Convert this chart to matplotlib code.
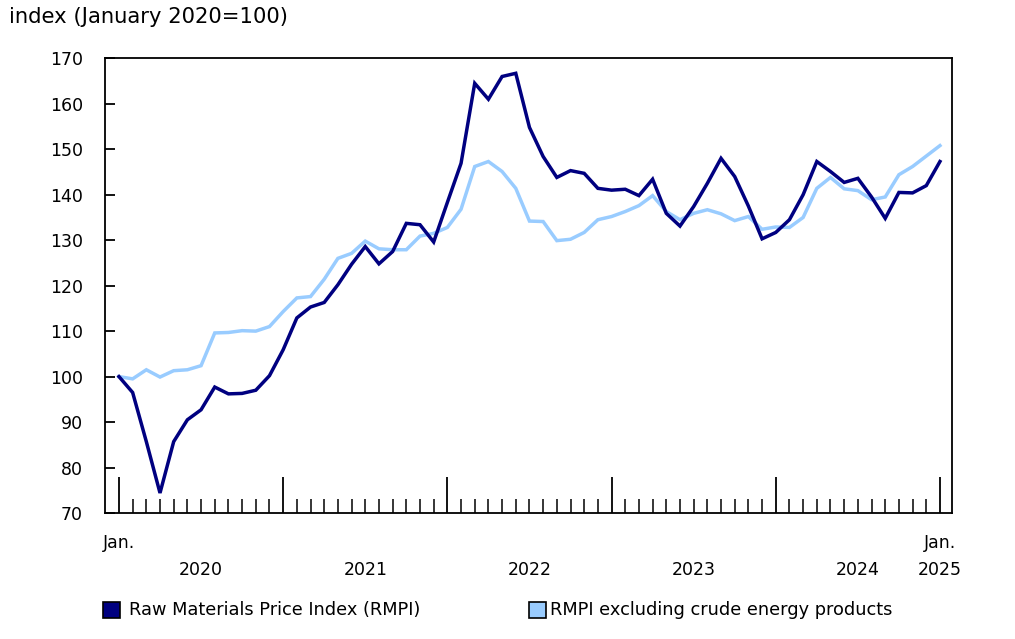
import matplotlib
matplotlib.use("Agg")
import matplotlib.pyplot as plt
from matplotlib.patches import Rectangle
import numpy as np

plt.rcParams['font.family'] = ['DejaVu Sans']

# monthly index values, Jan 2020 .. Jan 2025 (January 2020 = 100)
rmpi = [100.0, 96.5, 85.7, 74.4, 85.7, 90.5, 92.7, 97.7, 96.2, 96.3, 97.0, 100.2,
        105.9, 112.9, 115.3, 116.3, 120.2, 124.7, 128.6, 124.8, 127.5, 133.7, 133.4, 129.6,
        138.3, 146.9, 164.5, 161.0, 166.0, 166.7, 154.8, 148.4, 143.8, 145.3, 144.7, 141.4,
        141.0, 141.2, 139.8, 143.4, 135.9, 133.1, 137.4, 142.5, 148.0, 144.0, 137.5, 130.3,
        131.7, 134.5, 140.0, 147.3, 145.1, 142.7, 143.6, 139.5, 134.8, 140.5, 140.4, 142.0,
        147.3]
rmpi_ex_energy = [100.0, 99.5, 101.5, 99.9, 101.3, 101.5, 102.4, 109.6, 109.7, 110.1, 110.0, 111.0,
                  114.3, 117.3, 117.6, 121.4, 126.0, 127.1, 129.8, 128.1, 127.9, 127.9, 130.9, 131.5,
                  132.8, 136.8, 146.2, 147.3, 145.1, 141.4, 134.2, 134.1, 129.9, 130.2, 131.7, 134.5,
                  135.2, 136.3, 137.6, 139.8, 136.3, 134.5, 135.9, 136.7, 135.8, 134.3, 135.2, 132.4,
                  132.9, 132.8, 135.0, 141.4, 143.8, 141.3, 140.9, 138.9, 139.5, 144.4, 146.2, 148.5,
                  150.8]
years = ['2020', '2021', '2022', '2023', '2024']
series_names = ['Raw Materials Price Index (RMPI)', 'RMPI excluding crude energy products']
colors = ['#000080', '#99ccff']

W, H = 1015, 639
fig = plt.figure(figsize=(W / 100, H / 100), dpi=100)
ax = fig.add_axes([105 / W, 1 - 513 / H, (952 - 105) / W, (513 - 58.3) / H])

x = np.arange(len(rmpi))
ax.plot(x, rmpi_ex_energy, color=colors[1], lw=2.5, solid_joinstyle='miter')
ax.plot(x, rmpi, color=colors[0], lw=2.5, solid_joinstyle='miter')

ax.set_xlim(-1.02, 60.88)
ax.set_ylim(70, 170)

for s in ax.spines.values():
    s.set_linewidth(1.3)
    s.set_color('black')

# y axis
ax.set_yticks(np.arange(70, 171, 10))
ax.tick_params(axis='y', direction='in', length=7, width=1.3, pad=16, labelsize=12.5)

# x axis: major ticks each January, minor each month
ax.set_xticks(np.arange(0, 61, 12))
ax.set_xticks(x, minor=True)
ax.set_xticklabels([])
ax.tick_params(axis='x', which='major', direction='in', length=26, width=1.3)
ax.tick_params(axis='x', which='minor', direction='in', length=10, width=1.1)

tr = ax.get_xaxis_transform()
ax.text(0, -0.065, 'Jan.', transform=tr, ha='center', va='center', fontsize=12.5)
ax.text(60, -0.065, 'Jan.', transform=tr, ha='center', va='center', fontsize=12.5)
for i, yr in enumerate(years):
    ax.text(12 * i + 6, -0.125, yr, transform=tr, ha='center', va='center', fontsize=12.5)
ax.text(60, -0.125, '2025', transform=tr, ha='center', va='center', fontsize=12.5)

fig.text(9 / W, 1 - 17 / H, 'index (January 2020=100)', ha='left', va='center', fontsize=15.2)

# legend
for (px, tx), name, c in zip([(103, 129), (529, 550)], series_names, colors):
    fig.add_artist(Rectangle((px / W, 1 - 618 / H), 17 / W, 16 / H, transform=fig.transFigure,
                             facecolor=c, edgecolor='black', lw=1.2))
    fig.text(tx / W, 1 - 610 / H, name, ha='left', va='center', fontsize=12.8)

fig.savefig('out.png', dpi=100)
